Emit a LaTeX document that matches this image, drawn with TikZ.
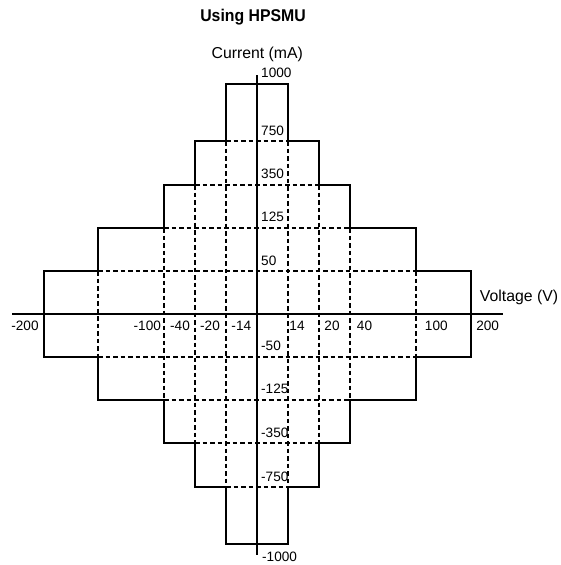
\documentclass[tikz,border=0pt]{standalone}
\usepackage{fontspec}
\setmainfont{Liberation Sans}
\newfontfamily\titlefont[FakeStretch=0.93]{Liberation Sans}
\begin{document}
\begin{tikzpicture}[x=1pt,y=-1pt,
  outline/.style={line width=2.2pt, line join=miter},
  gridline/.style={line width=2pt, dash pattern=on 4.5pt off 3pt},
  axisline/.style={line width=1.6pt},
  ticklab/.style={font=\fontsize{13.6}{13.6}\selectfont, inner sep=0pt},
  axislab/.style={font=\fontsize{15.8}{15.8}\selectfont, inner sep=0pt, anchor=base},
  titlelab/.style={font=\titlefont\bfseries\fontsize{17}{17}\selectfont, inner sep=0pt, anchor=base}]
\useasboundingbox (0,0) rectangle (561,565);
% columns
\def\Xma{44}\def\Xmb{98}\def\Xmc{164}\def\Xmd{195}\def\Xme{226}
\def\Xz{257}
\def\Xpe{288}\def\Xpd{319}\def\Xpc{350}\def\Xpb{416}\def\Xpa{471}
% rows
\def\Ypa{84}\def\Ypb{141}\def\Ypc{185}\def\Ypd{228}\def\Ype{271}
\def\Yz{314}
\def\Yme{357}\def\Ymd{400}\def\Ymc{443}\def\Ymb{487}\def\Yma{544}
% axes
\coordinate (vtop) at (\Xz,75);
\coordinate (vbot) at (\Xz,555);
\coordinate (hleft) at (12,\Yz);
\coordinate (hright) at (503,\Yz);
\draw[axisline] (vtop) -- (vbot);
\draw[axisline] (hleft) -- (hright);
% dashed grid: horizontals
\draw[gridline] (\Xme,\Ypb) -- (\Xpe,\Ypb);
\draw[gridline] (\Xmd,\Ypc) -- (\Xpd,\Ypc);
\draw[gridline] (\Xmc,\Ypd) -- (\Xpc,\Ypd);
\draw[gridline] (\Xmb,\Ype) -- (\Xpb,\Ype);
\draw[gridline] (\Xmb,\Yme) -- (\Xpb,\Yme);
\draw[gridline] (\Xmc,\Ymd) -- (\Xpc,\Ymd);
\draw[gridline] (\Xmd,\Ymc) -- (\Xpd,\Ymc);
\draw[gridline] (\Xme,\Ymb) -- (\Xpe,\Ymb);
% dashed grid: verticals
\draw[gridline] (\Xme,\Ypb) -- (\Xme,\Ymb);
\draw[gridline] (\Xpe,\Ypb) -- (\Xpe,\Ymb);
\draw[gridline] (\Xmd,\Ypc) -- (\Xmd,\Ymc);
\draw[gridline] (\Xpd,\Ypc) -- (\Xpd,\Ymc);
\draw[gridline] (\Xmc,\Ypd) -- (\Xmc,\Ymd);
\draw[gridline] (\Xpc,\Ypd) -- (\Xpc,\Ymd);
\draw[gridline] (\Xmb,\Ype) -- (\Xmb,\Yme);
\draw[gridline] (\Xpb,\Ype) -- (\Xpb,\Yme);
% solid stepped outline
\draw[outline] (\Xme,\Ypa) -- (\Xpe,\Ypa) -- (\Xpe,\Ypb) -- (\Xpd,\Ypb) -- (\Xpd,\Ypc)
  -- (\Xpc,\Ypc) -- (\Xpc,\Ypd) -- (\Xpb,\Ypd) -- (\Xpb,\Ype) -- (\Xpa,\Ype)
  -- (\Xpa,\Yme) -- (\Xpb,\Yme) -- (\Xpb,\Ymd) -- (\Xpc,\Ymd) -- (\Xpc,\Ymc)
  -- (\Xpd,\Ymc) -- (\Xpd,\Ymb) -- (\Xpe,\Ymb) -- (\Xpe,\Yma) -- (\Xme,\Yma)
  -- (\Xme,\Ymb) -- (\Xmd,\Ymb) -- (\Xmd,\Ymc) -- (\Xmc,\Ymc) -- (\Xmc,\Ymd)
  -- (\Xmb,\Ymd) -- (\Xmb,\Yme) -- (\Xma,\Yme) -- (\Xma,\Ype) -- (\Xmb,\Ype)
  -- (\Xmb,\Ypd) -- (\Xmc,\Ypd) -- (\Xmc,\Ypc) -- (\Xmd,\Ypc) -- (\Xmd,\Ypb)
  -- (\Xme,\Ypb) -- cycle;
% titles
\node[titlelab] (title) at (253,21.7) {Using HPSMU};
\node[axislab] (ylab) at (257.3,58.3) {Current (mA)};
\node[axislab] (xlab) at (519,301.7) {Voltage (V)};
% current labels
\node[ticklab, anchor=west] (c1000) at (261,73) {1000};
\node[ticklab, anchor=west] (c750) at (261,131) {750};
\node[ticklab, anchor=west] (c350) at (261,174.3) {350};
\node[ticklab, anchor=west] (c125) at (261,217) {125};
\node[ticklab, anchor=west] (c50) at (261,260.7) {50};
\node[ticklab, anchor=west] (cm50) at (261,346) {-50};
\node[ticklab, anchor=west] (cm125) at (261,389.3) {-125};
\node[ticklab, anchor=west] (cm350) at (261,433.3) {-350};
\node[ticklab, anchor=west] (cm750) at (261,477.3) {-750};
\node[ticklab, anchor=west] (cm1000) at (262,556.7) {-1000};
% voltage labels
\node[ticklab] (vm200) at (25,326) {-200};
\node[ticklab] (vm100) at (147.3,326) {-100};
\node[ticklab] (vm40) at (180,326) {-40};
\node[ticklab] (vm20) at (210,326) {-20};
\node[ticklab] (vm14) at (241.3,326) {-14};
\node[ticklab] (vp14) at (297,326) {14};
\node[ticklab] (vp20) at (332,326) {20};
\node[ticklab] (vp40) at (364.5,326) {40};
\node[ticklab] (vp100) at (436.3,326) {100};
\node[ticklab] (vp200) at (487.7,326) {200};
\end{tikzpicture}
\end{document}
